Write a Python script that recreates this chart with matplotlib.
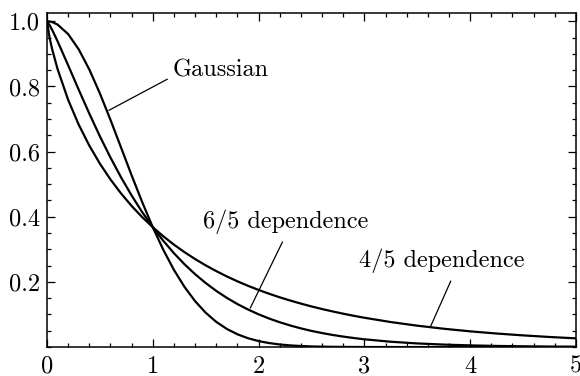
import matplotlib
matplotlib.use("Agg")
import matplotlib.pyplot as plt
from matplotlib.ticker import MultipleLocator

plt.rcParams["font.family"] = ["cmr10", "DejaVu Serif"]
plt.rcParams["mathtext.fontset"] = "cm"

# Sample positions along the horizontal axis
x = [0.0, 0.025, 0.05, 0.1, 0.2, 0.3, 0.4, 0.5, 0.6, 0.7, 0.8, 0.9, 1.0,
     1.1, 1.2, 1.3, 1.4, 1.5, 1.6, 1.7, 1.8, 1.9, 2.0, 2.1, 2.2, 2.3, 2.4,
     2.5, 2.6, 2.7, 2.8, 2.9, 3.0, 3.25, 3.5, 3.75, 4.0, 4.25, 4.5, 4.75, 5.0]

gaussian = [1.0, 0.9994, 0.9975, 0.9900, 0.9608, 0.9139, 0.8521, 0.7788,
            0.6977, 0.6126, 0.5273, 0.4449, 0.3679, 0.2982, 0.2369, 0.1845,
            0.1409, 0.1054, 0.0773, 0.0556, 0.0392, 0.0271, 0.0183, 0.0122,
            0.0079, 0.0050, 0.0032, 0.0019, 0.0012, 0.0007, 0.0004, 0.0002,
            0.0001, 0.0, 0.0, 0.0, 0.0, 0.0, 0.0, 0.0, 0.0]

dep_6_5 = [1.0, 0.9881, 0.9729, 0.9388, 0.8651, 0.7899, 0.7168, 0.6471,
           0.5818, 0.5211, 0.4653, 0.4143, 0.3679, 0.3259, 0.2881, 0.2541,
           0.2237, 0.1966, 0.1724, 0.1510, 0.1320, 0.1153, 0.1005, 0.0875,
           0.0761, 0.0661, 0.0573, 0.0496, 0.0430, 0.0371, 0.0321, 0.0277,
           0.0238, 0.0163, 0.0111, 0.0076, 0.0051, 0.0034, 0.0023, 0.0015,
           0.0010]

dep_4_5 = [1.0, 0.9491, 0.9130, 0.8534, 0.7589, 0.6827, 0.6185, 0.5631,
           0.5145, 0.4716, 0.4332, 0.3988, 0.3679, 0.3399, 0.3144, 0.2913,
           0.2701, 0.2508, 0.2331, 0.2168, 0.2018, 0.1880, 0.1753, 0.1636,
           0.1527, 0.1427, 0.1334, 0.1247, 0.1167, 0.1093, 0.1024, 0.0959,
           0.0900, 0.0767, 0.0656, 0.0562, 0.0482, 0.0415, 0.0358, 0.0309,
           0.0267]

x_ticks = [0, 1, 2, 3, 4, 5]
x_tick_labels = ["0", "1", "2", "3", "4", "5"]
y_ticks = [0.2, 0.4, 0.6, 0.8, 1.0]
y_tick_labels = ["0.2", "0.4", "0.6", "0.8", "1.0"]

fig = plt.figure(figsize=(5.8, 3.76), dpi=100)
ax = fig.add_axes([0.081, 0.077, 0.912, 0.888])

for series in (gaussian, dep_6_5, dep_4_5):
    ax.plot(x, series, color="black", lw=1.6, solid_capstyle="round")

ax.set_xlim(0, 5)
ax.set_ylim(0, 1.025)

ax.set_xticks(x_ticks)
ax.set_xticklabels(x_tick_labels)
ax.set_yticks(y_ticks)
ax.set_yticklabels(y_tick_labels)
ax.xaxis.set_minor_locator(MultipleLocator(0.2))
ax.yaxis.set_minor_locator(MultipleLocator(0.05))

ax.tick_params(which="both", direction="in", top=True, right=True,
               labelsize=17.5, width=0.9, colors="black")
ax.tick_params(which="major", length=5.5)
ax.tick_params(which="minor", length=3)
ax.tick_params(axis="x", which="major", pad=6)
ax.tick_params(axis="y", which="major", pad=5)
for sp in ax.spines.values():
    sp.set_linewidth(1.1)

txt = dict(fontsize=17.5, ha="left", va="baseline", color="black")
line = dict(color="black", lw=0.9)

ax.text(1.19, 0.831, "Gaussian", **txt)
ax.plot([1.136, 0.587], [0.822, 0.727], **line)

ax.text(1.477, 0.365, "6/5 dependence", **txt)
ax.plot([2.225, 1.922], [0.322, 0.12], **line)

ax.text(2.945, 0.245, "4/5 dependence", **txt)
ax.plot([3.816, 3.627], [0.202, 0.064], **line)

fig.savefig("out.png", dpi=100)
